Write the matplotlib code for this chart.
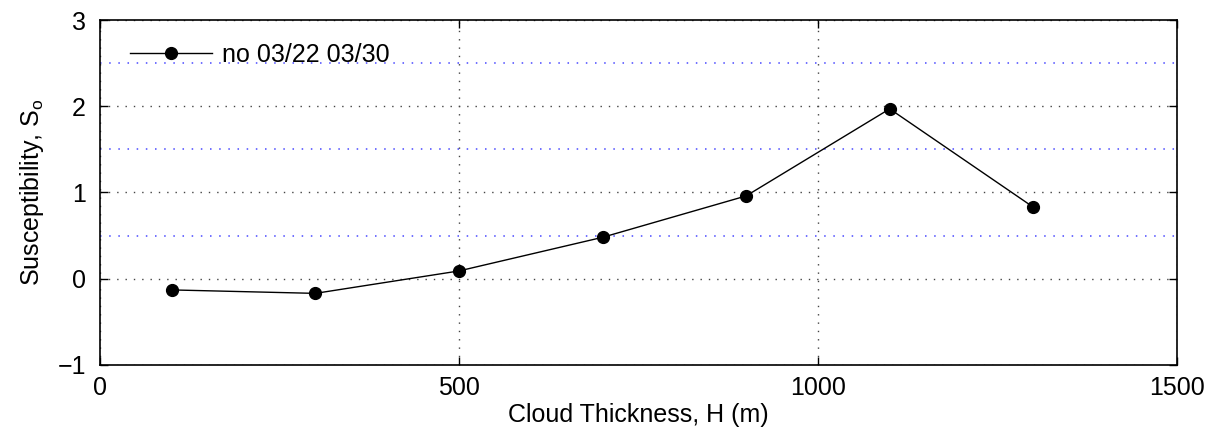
import matplotlib
matplotlib.use('Agg')
import matplotlib.pyplot as plt

plt.rcParams['font.family'] = ['Liberation Sans', 'DejaVu Sans']
plt.rcParams['mathtext.fontset'] = 'custom'
plt.rcParams['mathtext.rm'] = 'Liberation Sans'

# data
thickness = [100, 300, 500, 700, 900, 1100, 1300]
suscept = [-0.13, -0.17, 0.09, 0.48, 0.96, 1.97, 0.83]
x_ticks = [0, 500, 1000, 1500]
y_ticks = [-1, 0, 1, 2, 3]
y_half = [0.5, 1.5, 2.5]

fig = plt.figure(figsize=(12.12, 4.36), dpi=100)
ax = fig.add_axes([0.0825, 0.163, 0.8885, 0.791])

# MATLAB-like dotted grid, extra blue lines at half units
for yv in y_half:
    ax.axhline(yv, color='#4848ff', linestyle=(0, (1, 5)), linewidth=1.1, zorder=1)
ax.grid(True, color='#444444', linestyle=(0, (1, 5)), linewidth=1.0)

ax.plot(thickness, suscept, '-', color='black', linewidth=1.0,
        marker='o', markersize=8.5, label='no 03/22 03/30', zorder=3)

ax.set_xlim(0, 1500)
ax.set_ylim(-1, 3)
ax.set_xticks(x_ticks)
ax.set_yticks(y_ticks)
ax.set_yticklabels(['\u22121', '0', '1', '2', '3'])
ax.tick_params(direction='in', top=True, right=True, length=6, width=1,
               labelsize=18, pad=10)
ax.tick_params(axis='x', pad=8)
for s in ax.spines.values():
    s.set_linewidth(1.2)

ax.set_xlabel('Cloud Thickness, H (m)', fontsize=18, labelpad=2)
ax.set_ylabel('Susceptibility, S$_\\mathregular{o}$', fontsize=18, labelpad=8)

ax.legend(loc='upper left', frameon=False, fontsize=18, handlelength=3.3,
          handletextpad=0.4, borderaxespad=0.8,
          bbox_to_anchor=(0.0, 1.02))

fig.savefig('out.png', dpi=100)
